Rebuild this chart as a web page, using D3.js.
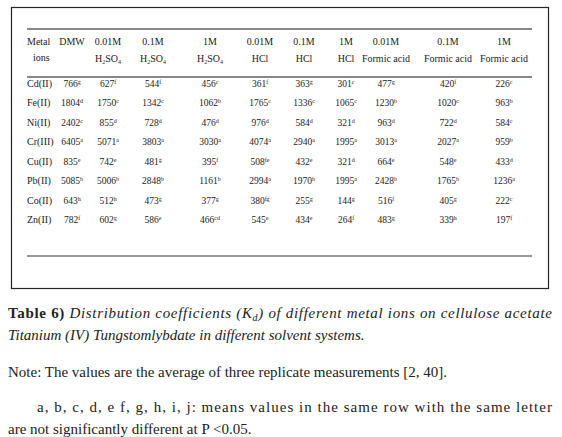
<!DOCTYPE html>
<html><head><meta charset="utf-8">
<script src="https://d3js.org/d3.v7.min.js"></script>
<style>body{margin:0;background:#fff}svg text{font-family:"Times New Roman","Liberation Serif",Tinos,"DejaVu Serif",serif;fill:#222}</style>
</head><body><div id="chart"></div>
<script>
var ions = ["Cd(II)","Fe(II)","Ni(II)","Cr(III)","Cu(II)","Pb(II)","Co(II)","Zn(II)"];
var head1 = ["DMW","0.01M","0.1M","1M","0.01M","0.1M","1M","0.01M","0.1M","1M"];
var head2 = ["","H2SO4","H2SO4","H2SO4","HCl","HCl","HCl","Formic acid","Formic acid","Formic acid"];
var values = [
  [766,627,544,456,361,363,301,477,420,226],
  [1804,1750,1342,1062,1765,1336,1065,1230,1020,963],
  [2402,855,728,476,976,584,321,963,722,584],
  [6405,5071,3803,3030,4074,2940,1995,3013,2027,959],
  [835,742,481,395,508,432,321,664,548,433],
  [5085,5006,2848,1161,2994,1970,1995,2428,1765,1236],
  [643,512,473,377,380,255,144,516,405,222],
  [782,602,586,466,545,434,264,483,339,197]
];
var letters = [
  ["g","f","f","c","f","g","c","g","f","c"],
  ["d","c","c","b","c","c","c","b","c","b"],
  ["c","d","d","d","d","d","d","d","d","c"],
  ["a","a","a","a","a","a","a","a","a","b"],
  ["e","e","g","f","fe","e","d","e","e","d"],
  ["b","b","b","b","a","b","a","b","b","a"],
  ["h","h","g","g","fg","g","g","f","g","c"],
  ["f","g","e","cd","e","e","f","g","h","f"]
];
var colCenters = [72,108,153,210,260,304,346,386,448,504];

var W = 562, H = 437;
var svg = d3.select("#chart").append("svg").attr("width", W).attr("height", H);

svg.append("rect").attr("x",11.5).attr("y",7.5).attr("width",537).attr("height",281)
  .attr("fill","none").attr("stroke","#222").attr("stroke-width",1.2);

var y = d3.scalePoint().domain(ions).range([83,219]);
var col = d3.scaleOrdinal().domain(d3.range(10)).range(colCenters);

// rules
[[29,"#888",2],[77,"#888",2],[256,"#333",1.2]].forEach(function(r){
  svg.append("line").attr("x1",27).attr("x2",532).attr("y1",r[0]).attr("y2",r[0])
    .attr("stroke",r[1]).attr("stroke-width",r[2]);
});

svg.append("text").attr("x",27).attr("y",45).attr("font-size",10).text("Metal");
svg.append("text").attr("x",33).attr("y",61).attr("font-size",10).text("ions");

function chem(sel, s){
  if(s === "H2SO4"){
    sel.append("tspan").text("H");
    sel.append("tspan").attr("font-size",6).attr("dy",2).text("2");
    sel.append("tspan").attr("dy",-2).text("SO");
    sel.append("tspan").attr("font-size",6).attr("dy",2).text("4");
  } else sel.text(s);
}

head1.forEach(function(h,i){
  svg.append("text").attr("x",col(i)).attr("y",45).attr("text-anchor","middle").attr("font-size",10).text(h);
  var t = svg.append("text").attr("x",col(i)).attr("y",62).attr("text-anchor","middle").attr("font-size",10);
  chem(t, head2[i]);
});

ions.forEach(function(ion,r){
  svg.append("text").attr("x",27).attr("y",y(ion)+4).attr("font-size",10).text(ion);
  values[r].forEach(function(v,c){
    var t = svg.append("text").attr("x",col(c)).attr("y",y(ion)+4).attr("text-anchor","middle").attr("font-size",9.5);
    t.append("tspan").text(v);
    t.append("tspan").attr("font-size",6).attr("dy",-3).text(letters[r][c]);
  });
});

// caption
var cap = svg.append("text").attr("x",8).attr("y",318).attr("font-size",15).attr("textLength",544).attr("lengthAdjust","spacing");
cap.append("tspan").attr("font-weight","bold").text("Table 6) ");
cap.append("tspan").attr("font-style","italic").text("Distribution coefficients (K");
cap.append("tspan").attr("font-style","italic").attr("font-size",10).attr("dy",3).text("d");
cap.append("tspan").attr("font-style","italic").attr("dy",-3).text(") of different metal ions on cellulose acetate");
svg.append("text").attr("x",8).attr("y",340).attr("font-size",15).attr("font-style","italic")
  .text("Titanium (IV) Tungstomlybdate in different solvent systems.");
svg.append("text").attr("x",8).attr("y",377).attr("font-size",15)
  .text("Note: The values are the average of three replicate measurements [2, 40].");
svg.append("text").attr("x",37).attr("y",412).attr("font-size",15).attr("textLength",515).attr("lengthAdjust","spacing")
  .text("a, b, c, d, e f, g, h, i, j: means values in the same row with the same letter");
svg.append("text").attr("x",8).attr("y",434).attr("font-size",15)
  .text("are not significantly different at P <0.05.");
</script></body></html>
